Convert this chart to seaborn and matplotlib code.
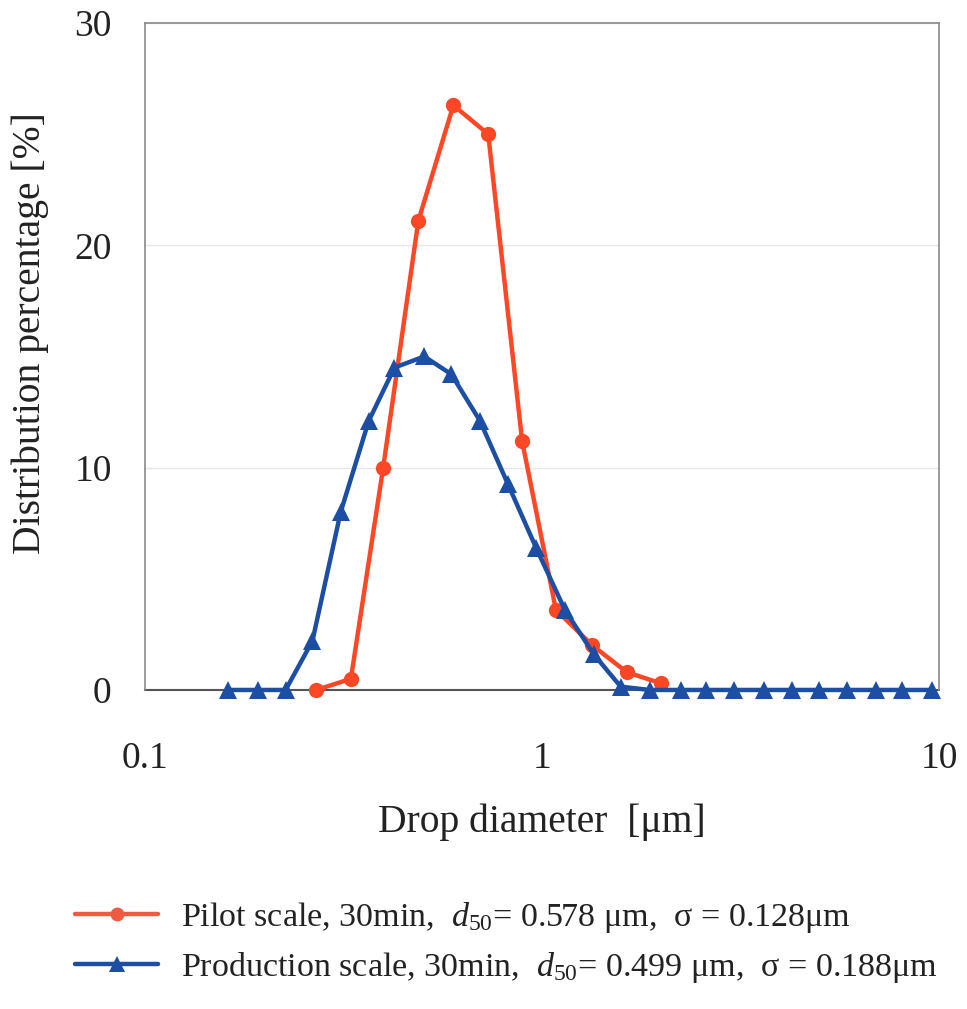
import numpy as np
import pandas as pd
import matplotlib
matplotlib.use("Agg")
import matplotlib.pyplot as plt
import seaborn as sns
from matplotlib.lines import Line2D

# ---- data ----
pilot_x = [0.270, 0.330, 0.398, 0.488, 0.598, 0.732, 0.891, 1.084, 1.34, 1.635, 1.99]
pilot_y = [0.0, 0.5, 10.0, 21.1, 26.3, 25.0, 11.2, 3.6, 2.0, 0.8, 0.3]

prod_x = [0.162, 0.192, 0.226, 0.264, 0.311, 0.366, 0.425, 0.505, 0.591, 0.698,
          0.821, 0.966, 1.142, 1.351, 1.578, 1.866, 2.24, 2.59, 3.04, 3.62,
          4.26, 4.99, 5.87, 6.94, 8.07, 9.60]
prod_y = [0.0, 0.0, 0.0, 2.2, 8.0, 12.1, 14.5, 15.0, 14.2, 12.1,
          9.25, 6.4, 3.6, 1.6, 0.15, 0.0, 0.0, 0.0, 0.0, 0.0,
          0.0, 0.0, 0.0, 0.0, 0.0, 0.0]

series_names = ["Pilot scale, 30min,  $d_{50}$= 0.578 \u03bcm,  \u03c3 = 0.128\u03bcm",
                "Production scale, 30min,  $d_{50}$= 0.499 \u03bcm,  \u03c3 = 0.188\u03bcm"]
x_ticks = [0.1, 1, 10]
x_tick_labels = ["0.1", "1", "10"]
y_ticks = [0, 10, 20, 30]

RED = "#FF4726"
BLUE = "#1C4FA3"

sns.set_theme(style="white")
plt.rcParams["font.family"] = ["Liberation Serif", "DejaVu Serif"]
plt.rcParams["mathtext.fontset"] = "custom"
plt.rcParams["mathtext.rm"] = "Liberation Serif"
plt.rcParams["mathtext.it"] = "Liberation Serif:italic"

fig = plt.figure(figsize=(9.67, 10.09), dpi=100)
ax = fig.add_axes([0.150, 0.3162, 0.821, 0.661])

df_p = pd.DataFrame({"x": pilot_x, "y": pilot_y})
df_b = pd.DataFrame({"x": prod_x, "y": prod_y})

sns.lineplot(data=df_p, x="x", y="y", ax=ax, color=RED, lw=3.2, marker="o",
             markersize=11, markeredgewidth=0, sort=False, zorder=3, clip_on=False)
sns.lineplot(data=df_b, x="x", y="y", ax=ax, color=BLUE, lw=3.2, marker="^",
             markersize=13, markeredgewidth=0, sort=False, zorder=4, clip_on=False)

ax.set_xscale("log")
ax.set_xlim(0.1, 10)
ax.set_ylim(0, 30)
ax.set_xticks(x_ticks)
ax.set_xticklabels(x_tick_labels)
ax.xaxis.set_minor_locator(matplotlib.ticker.NullLocator())
ax.set_yticks(y_ticks)
ax.tick_params(axis="x", length=0, pad=37, labelsize=27, colors="#222222")
ax.tick_params(axis="y", length=0, pad=24, labelsize=27, colors="#222222")
ax.grid(axis="y", color="#e6e6e6", lw=1)
ax.grid(axis="x", visible=False)
for s in ["left", "top", "right"]:
    ax.spines[s].set_color("#8a8a8a")
    ax.spines[s].set_linewidth(1.2)
ax.spines["bottom"].set_color("#555555")
ax.spines["bottom"].set_linewidth(1.5)
ax.spines["bottom"].set_zorder(2)

ax.set_xlabel("Drop diameter  [\u03bcm]", fontsize=28.5, color="#222222")
ax.set_ylabel("Distribution percentage [%]", fontsize=28.5, color="#222222")
ax.xaxis.set_label_coords(0.5, -0.170)
ax.yaxis.set_label_coords(-0.121, 0.535)

handles = [Line2D([], [], color="#F05A40", lw=3.2, marker="o", markersize=10, markeredgewidth=0),
           Line2D([], [], color=BLUE, lw=3.2, marker="^", markersize=12, markeredgewidth=0)]
fig.legend(handles, series_names, loc="upper left", bbox_to_anchor=(0.0776, 0.108),
           frameon=False, fontsize=24.5, handlelength=2.45, handletextpad=0.66,
           labelspacing=0.45, borderpad=0, borderaxespad=0, labelcolor="#222222")

fig.savefig("out.png", dpi=100)
